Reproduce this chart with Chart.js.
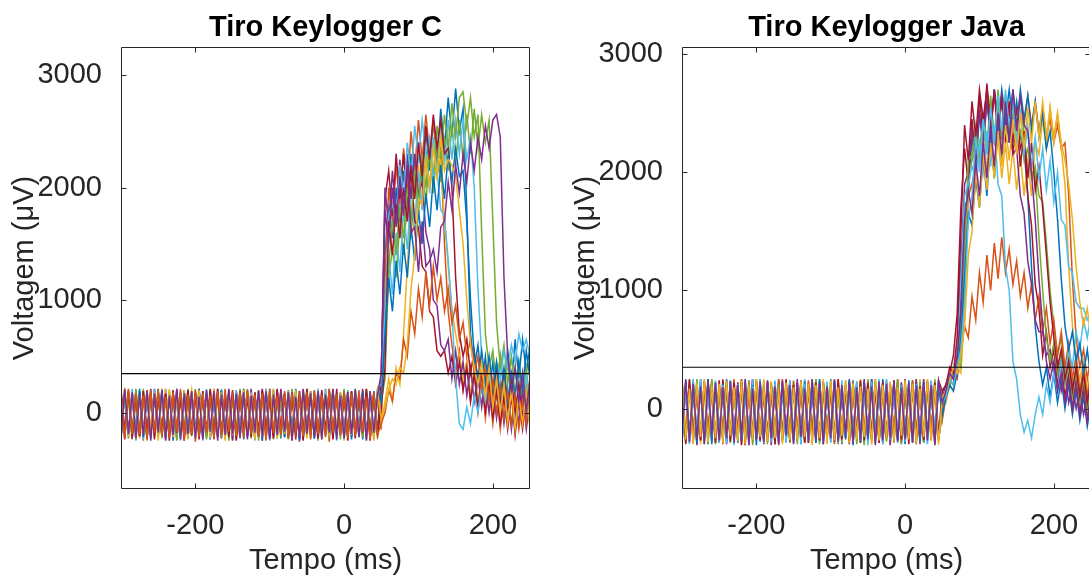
<!DOCTYPE html>
<html>
<head>
<meta charset="utf-8">
<script src="https://cdn.jsdelivr.net/npm/chart.js@4.4.1/dist/chart.umd.min.js"></script>
<style>
  body { margin: 0; background: #fff; overflow: hidden; }
  #wrap { position: relative; width: 1089px; height: 579px; overflow: hidden; }
  canvas { position: absolute; top: 0; }
</style>
</head>
<body>
<div id="wrap">
  <canvas id="graficoC" width="560" height="579" style="left:0"></canvas>
  <canvas id="graficoJava" width="560" height="579" style="left:561px"></canvas>
</div>
<script>
// tempo (ms), common to every trace
const tempo = [
  -300,-295,-290,-285,-280,-275,-270,-265,-260,-255,
  -250,-245,-240,-235,-230,-225,-220,-215,-210,-205,
  -200,-195,-190,-185,-180,-175,-170,-165,-160,-155,
  -150,-145,-140,-135,-130,-125,-120,-115,-110,-105,
  -100,-95,-90,-85,-80,-75,-70,-65,-60,-55,
  -50,-45,-40,-35,-30,-25,-20,-15,-10,-5,
  0,5,10,15,20,25,30,35,40,45,
  50,55,60,65,70,75,80,85,90,95,
  100,105,110,115,120,125,130,135,140,145,
  150,155,160,165,170,175,180,185,190,195,
  200,205,210,215,220,225,230,235,240,245,
  250
];

const xTicks = [-200, 0, 200];
const yTicks = [0, 1000, 2000, 3000];

// Tiro Keylogger C
const limiarC = 345;
const tiroC1 = [180,-190,160,-220,200,-170,150,-230,190,-200,170,-210,210,-180,140,-240,180,-190,200,-160,160,-220,190,-200,150,-230,210,-180,170,-210,140,-190,200,-240,180,-170,160,-220,190,-200,210,-180,150,-230,170,-210,200,-190,160,-240,180,-170,190,-220,140,-200,210,-230,170,-180,200,-210,160,-190,180,-240,150,-200,190,-170,120,
  1400,1850,1550,2000,1650,2150,1800,2300,1950,2400,2050,2500,2150,2600,2250,2700,2350,2800,2450,2880,2500,2700,1800,700,400,600,250,500,150,450,150,500,200,550,250,650,300,650,350,600];
const tiroC2 = [-200,170,-230,190,-180,150,-250,200,-210,160,-190,210,-240,140,-170,180,-220,200,-200,150,-260,190,-180,170,-230,210,-190,140,-210,180,-240,200,-170,160,-220,190,-200,150,-250,210,-180,170,-230,140,-190,200,-210,180,-240,160,-170,190,-220,150,-200,210,-260,170,-190,140,-230,200,-180,180,-210,160,-240,190,-200,150,-150,
  1200,2000,1700,2200,1850,2350,2000,2500,2150,2600,2250,2650,2300,2600,2200,2350,1500,900,600,350,550,200,450,100,350,0,300,-50,250,-100,200,-150,150,-100,200,-150,150,-100,200,-50];
const tiroC3 = [150,-210,190,-170,60,-230,200,-190,170,-220,140,-200,210,-160,180,-240,150,-190,-20,200,-210,170,-230,190,-180,160,-220,200,-200,140,-240,180,-170,210,-190,150,-230,190,-210,170,-180,60,-220,200,-160,180,-240,150,-200,190,-230,170,-190,210,-170,140,-220,180,-200,160,-250,190,-180,150,-210,200,-190,170,-230,140,-100,
  100,300,100,400,250,700,1300,1800,1600,2200,1850,2350,2000,2450,2100,2250,1700,1300,900,700,500,300,450,150,400,100,350,0,300,-50,250,-100,200,-50,250,-100,200,-50,250,-100];
const tiroC4 = [-220,200,-180,170,-240,190,-200,150,-230,210,-170,180,-250,160,-210,200,-190,140,-230,190,-180,210,-240,170,-200,150,-220,190,-170,200,-250,160,-190,180,-210,210,-230,140,-180,190,-240,170,-200,200,-220,150,-190,180,-260,210,-170,160,-230,190,-200,140,-210,200,-240,170,-180,180,-220,150,-200,210,-190,170,-230,160,300,
  2000,1650,2150,1750,2250,1850,2300,1900,2300,1950,2050,1600,1450,1000,950,600,550,650,300,550,250,450,150,400,100,350,50,300,0,250,-50,200,-100,150,-150,150,-100,200,-150,100];
const tiroC5 = [170,-200,150,-240,190,-180,210,-220,160,-190,200,-230,140,-170,180,-250,190,-200,150,-210,210,-180,170,-240,200,-190,160,-220,180,-170,150,-230,190,-200,210,-180,140,-250,170,-210,200,-190,160,-220,180,-240,150,-170,190,-200,210,-230,170,-180,140,-210,200,-190,160,-240,180,-200,190,-170,150,-220,210,-180,170,-210,100,
  300,1300,1700,1400,1850,1550,2000,1700,2150,1850,2300,2000,2400,2100,2550,2250,2650,2350,2750,2450,2800,2850,2550,2800,2450,2650,1600,700,400,550,250,500,200,450,150,400,100,350,50,300];
const tiroC6 = [-190,160,-220,200,-170,180,-240,150,-200,210,-230,170,-180,190,-210,140,-250,200,-190,160,-220,180,-170,210,-240,150,-200,190,-230,170,-180,200,-210,160,-190,180,-250,140,-220,210,-170,190,-230,150,-200,170,-240,200,-190,160,-210,180,-180,210,-230,150,-200,190,-170,140,-240,170,-210,200,-190,160,-220,180,-200,210,250,
  900,1750,1850,1700,2200,1900,2400,2100,2550,2250,2600,2300,2450,2100,2150,1800,1750,1350,900,300,-100,-150,50,-100,150,0,250,100,350,200,450,300,550,400,600,450,700,550,650,500];
const tiroC7 = [200,-170,180,-230,150,-210,190,-190,210,-240,160,-200,170,-220,200,-180,140,-250,190,-200,180,-210,150,-170,210,-230,170,-190,160,-220,200,-240,190,-180,140,-200,180,-210,210,-170,150,-230,200,-190,170,-220,160,-240,190,-180,210,-200,140,-230,180,-170,200,-210,150,-190,170,-250,190,-200,160,-180,210,-220,180,-190,50,
  400,1700,1400,1850,1550,2000,1700,2200,1900,2400,2100,2550,2250,2650,2350,2600,2300,2350,2000,1200,700,500,650,350,550,250,500,200,450,150,400,100,350,50,300,0,250,-50,200,-100];
const tiroC8 = [-240,190,-200,150,-180,210,-220,170,-190,140,-210,200,-170,180,-250,160,-200,190,-230,150,-180,210,-200,170,-240,140,-190,200,-220,180,-170,160,-230,210,-200,150,-180,190,-250,170,-210,200,-190,140,-220,180,-170,210,-240,160,-200,190,-230,170,-180,150,-210,200,-190,180,-220,140,-240,210,-170,190,-200,160,-230,200,100,
  700,1200,900,1350,1050,1500,1200,1650,1350,1800,1500,1950,1650,2100,1800,2200,1900,2300,2050,2350,2100,2150,1700,1000,500,300,550,250,500,200,450,150,400,100,350,150,450,200,550,300];
const tiroC9 = [160,-230,210,-190,170,-200,150,-240,200,-180,190,-210,140,-220,180,-170,210,-250,160,-190,200,-220,170,-180,150,-240,190,-200,210,-170,140,-210,180,-230,200,-190,160,-220,170,-250,210,-180,150,-200,190,-230,170,-170,140,-210,180,-240,200,-190,160,-220,210,-180,150,-200,190,-230,170,-210,200,-170,140,-240,180,-200,-100,
  0,200,100,350,300,650,500,900,700,1100,850,1250,950,1300,1000,1200,900,1100,800,950,650,800,500,650,350,500,200,400,100,300,0,250,-50,200,-100,150,-150,100,-100,150];
const tiroC10 = [-210,210,-190,180,-230,160,-200,200,-250,170,-180,190,-220,150,-200,210,-240,170,-190,180,-230,140,-210,200,-170,190,-250,160,-200,210,-190,170,-220,180,-240,150,-180,200,-210,190,-230,160,-200,210,-170,180,-250,140,-220,200,-190,170,-210,190,-240,160,-180,210,-200,150,-230,180,-190,200,-220,170,-250,190,-180,160,350,
  1800,1500,2000,1650,2100,1750,2200,1600,1650,1250,1700,1300,1350,1450,1250,1650,1700,2050,1800,2200,1950,2300,2050,2400,2150,2450,2250,2550,2350,2600,2650,2450,1200,500,200,400,100,350,0,300];
const tiroC11 = [190,-160,140,-230,210,-200,170,-250,150,-180,200,-220,160,-190,190,-240,140,-170,210,-210,180,-200,150,-230,200,-180,170,-220,190,-250,160,-190,210,-170,140,-230,180,-210,200,-200,150,-240,190,-180,170,-220,210,-190,160,-230,200,-170,140,-250,180,-200,190,-210,150,-180,210,-240,170,-190,160,-220,200,-180,140,-230,200,
  600,1200,1450,1200,1700,1400,1900,1550,2100,1750,2250,1850,2350,1950,2400,2050,2450,2150,2550,2200,2600,2250,2650,2300,2700,2350,2650,2400,2600,1700,800,400,600,250,500,150,450,100,400,50];
const tiroC12 = [-230,150,-190,210,-250,180,-170,160,-220,200,-200,140,-240,190,-180,210,-210,170,-230,150,-190,200,-250,180,-170,160,-220,210,-200,140,-240,190,-180,170,-210,200,-230,150,-190,180,-250,210,-170,160,-200,190,-220,140,-240,200,-180,180,-210,150,-230,210,-190,170,-250,160,-200,200,-170,190,-220,140,-240,180,-210,170,300,
  800,1400,1050,1600,1250,1800,1450,2000,1650,2150,1800,2300,1950,2450,2100,2550,2200,2600,2250,2600,2300,2600,2250,2450,2000,1100,500,200,450,100,350,0,300,-50,250,-100,300,-50,350,0];
const tiroC13 = [140,-240,200,-180,170,-210,190,-230,150,-170,210,-200,160,-250,180,-190,140,-220,200,-180,170,-240,190,-210,150,-170,210,-230,160,-200,180,-250,140,-190,200,-220,170,-180,190,-240,150,-210,210,-170,160,-230,180,-200,140,-250,190,-180,170,-220,200,-190,150,-240,210,-210,160,-170,180,-230,140,-200,190,-250,170,-190,350,
  1900,2150,1750,2300,1900,2300,1900,2150,1700,1650,1300,1250,900,850,550,500,550,350,500,250,450,200,400,100,350,50,300,0,250,-50,200,-100,150,-150,150,-200,100,-150,150,-100];
const tiroC14 = [-180,220,-210,170,-240,150,-190,200,-170,180,-250,160,-200,210,-220,140,-180,190,-240,170,-210,200,-170,150,-230,210,-190,180,-250,160,-200,140,-220,200,-180,170,-240,190,-210,150,-170,210,-230,160,-190,180,-250,200,-200,140,-220,190,-180,170,-240,150,-210,210,-170,180,-230,160,-200,200,-190,140,-220,180,-250,190,-50,
  50,200,300,250,400,350,600,1100,1400,1900,1850,2250,2000,2350,2100,2450,2150,2250,2200,2100,1800,1500,1000,600,400,250,450,150,400,50,300,0,250,-100,200,-150,150,-100,200,-150];

// Tiro Keylogger Java
const limiarJava = 350;
const tiroJ1 = [220,-250,190,-280,240,-230,200,-300,230,-260,180,-240,250,-270,210,-290,170,-250,240,-230,200,-280,230,-260,190,-300,250,-240,210,-270,170,-250,240,-290,220,-230,190,-280,230,-260,250,-240,200,-300,180,-270,240,-250,210,-290,190,-230,230,-280,250,-260,170,-240,220,-300,200,-270,240,-250,180,-290,230,-230,210,-260,0,
  150,250,200,400,900,1700,1800,2300,2000,2500,2200,2600,2350,2700,2400,2700,2450,2700,2400,2600,2300,2200,1800,1200,700,400,200,350,100,300,50,250,0,200,-50,150,-100,100,-150,50];
const tiroJ2 = [-260,210,-290,240,-230,180,-300,230,-250,200,-280,250,-240,170,-270,220,-300,190,-250,240,-230,200,-290,230,-260,180,-310,250,-240,210,-270,190,-250,240,-290,170,-230,220,-280,200,-260,250,-300,180,-240,230,-270,210,-290,190,-250,240,-230,200,-280,170,-300,230,-260,220,-240,190,-290,250,-270,180,-250,210,-230,240,-100,
  100,200,300,250,500,1000,1800,1900,2050,2100,2250,2200,2400,2250,2500,2300,2550,2350,2600,2400,2650,2400,2650,2400,2600,2350,2550,2300,2450,2250,2400,2200,2250,1800,1100,600,350,500,250,450];
const tiroJ3 = [190,-280,240,-240,210,-300,170,-260,250,-230,220,-290,180,-250,240,-270,200,-310,230,-240,170,-260,250,-280,190,-230,220,-300,240,-250,210,-270,180,-290,230,-240,250,-260,190,-300,240,-230,200,-280,170,-250,220,-290,250,-260,180,-300,230,-240,210,-270,190,-250,240,-280,200,-260,170,-290,250,-230,220,-270,190,-240,50,
  50,200,150,350,300,800,1900,2100,2300,2050,2400,2000,2350,1950,2300,1950,2250,1900,2200,1850,2150,1800,2100,1800,2250,2150,2450,2200,2550,2300,2500,2200,1900,1200,700,400,250,400,150,350];
const tiroJ4 = [-290,230,-250,200,-310,250,-260,180,-280,220,-240,190,-300,240,-230,210,-270,170,-290,250,-250,200,-280,230,-310,190,-240,220,-260,180,-300,250,-230,210,-270,190,-290,240,-250,170,-280,220,-260,200,-240,250,-300,180,-230,230,-270,210,-290,190,-250,240,-310,170,-260,220,-240,200,-280,250,-300,190,-230,230,-270,180,100,
  200,300,250,450,1200,1900,2000,2350,2100,2500,2250,2600,2300,2700,2400,2650,2400,2500,2150,2200,1800,1650,1250,1050,750,650,650,450,500,300,400,150,300,50,200,0,150,-50,100,-100];
const tiroJ5 = [230,-240,180,-290,250,-260,200,-230,220,-300,170,-270,240,-250,190,-280,230,-240,210,-310,250,-260,180,-230,220,-290,200,-270,240,-250,190,-300,230,-240,170,-280,250,-260,210,-230,200,-290,240,-270,180,-250,220,-300,230,-240,250,-260,190,-280,210,-230,170,-290,240,-270,220,-250,200,-300,230,-240,180,-270,250,-260,-50,
  100,250,200,400,350,1300,2100,2150,2350,2100,2450,2150,2550,2250,2600,2300,2650,2350,2700,2400,2650,2300,2350,2000,2000,1450,1000,600,400,550,300,450,200,350,100,300,50,250,0,200];
const tiroJ6 = [-250,200,-300,250,-230,170,-280,220,-260,240,-290,190,-240,230,-310,210,-250,180,-270,250,-230,220,-290,200,-260,240,-300,170,-250,230,-280,190,-240,250,-270,210,-230,180,-300,220,-260,240,-290,200,-250,170,-280,230,-240,210,-310,190,-230,250,-270,220,-260,180,-290,200,-250,230,-280,210,-240,190,-300,240,-260,170,50,
  150,300,250,500,1100,1800,1900,2050,1950,2250,2000,2350,2050,2400,1900,1800,1200,1000,400,250,-50,-200,-100,-250,-50,100,-50,200,50,300,150,400,250,500,350,650,500,750,600,800];
const tiroJ7 = [210,-300,250,-250,190,-270,230,-240,170,-290,240,-260,200,-280,220,-230,250,-310,180,-250,230,-270,190,-240,210,-300,170,-260,250,-280,200,-230,240,-290,180,-250,220,-270,230,-240,170,-280,250,-260,200,-300,190,-230,240,-270,220,-250,180,-290,230,-240,210,-280,170,-260,250,-300,200,-240,190,-270,240,-250,220,-230,150,
  200,350,300,600,1500,2400,2100,2600,2300,2700,2450,2700,2400,2650,2350,2600,2250,2550,2150,2450,2050,2350,1950,2250,1850,2050,1700,1300,900,600,350,500,250,400,150,350,100,300,50,250];
const tiroJ8 = [-270,240,-230,190,-290,220,-250,250,-300,180,-240,210,-280,230,-260,170,-250,240,-290,200,-310,250,-240,190,-270,220,-230,200,-280,240,-250,180,-300,230,-240,210,-290,250,-260,190,-230,220,-270,170,-250,240,-310,200,-280,230,-260,250,-240,190,-290,210,-230,220,-270,180,-300,240,-250,200,-280,230,-240,170,-260,210,-50,
  100,200,150,300,600,1100,1650,1550,1950,1700,2150,1800,2300,1950,2450,2100,2550,2250,2700,2350,2700,2450,2650,2350,2600,2300,2500,2200,2350,2000,1600,1100,700,500,650,400,550,300,500,250];
const tiroJ9 = [240,-260,170,-300,220,-240,250,-280,190,-250,210,-290,230,-230,180,-270,240,-300,200,-260,250,-240,190,-280,230,-250,170,-290,220,-270,180,-260,240,-240,210,-310,200,-250,250,-280,230,-270,180,-230,240,-290,210,-260,190,-240,170,-300,250,-270,200,-250,230,-280,180,-230,240,-260,210,-290,170,-240,250,-270,200,-300,100,
  150,250,350,300,450,700,1300,1500,2000,1700,2150,1850,2250,1950,2350,2050,2400,2100,2450,2150,2500,2200,2550,2250,2600,2300,2600,2300,2550,2250,2500,2250,2100,1900,1600,1200,900,700,850,600];
const tiroJ10 = [-240,250,-280,210,-260,190,-300,240,-230,220,-270,180,-250,230,-290,200,-240,250,-310,170,-260,230,-280,210,-250,190,-300,240,-230,200,-290,220,-240,170,-270,250,-260,210,-300,190,-250,240,-280,200,-230,220,-290,180,-260,250,-240,190,-310,230,-270,210,-250,240,-280,170,-260,220,-290,190,-240,250,-270,200,-300,230,50,
  150,300,250,450,800,1600,1850,1650,2100,1800,2250,1950,2400,2050,2500,2150,2600,2250,2700,2350,2650,2400,2350,2000,1600,1100,700,400,250,400,150,300,50,250,0,200,-50,150,-100,100];
const tiroJ11 = [200,-290,240,-250,180,-270,230,-300,250,-240,190,-260,220,-290,170,-230,240,-280,210,-250,250,-270,180,-300,230,-240,200,-260,170,-290,240,-230,210,-280,190,-250,250,-300,180,-260,220,-240,170,-290,240,-270,200,-230,230,-310,180,-250,250,-260,190,-280,210,-240,240,-300,170,-270,230,-250,200,-290,180,-230,220,-260,50,
  100,200,350,300,700,1400,2000,2100,2400,2150,2500,2200,2650,2300,2700,2350,2650,2400,2500,2300,2350,2100,2200,1950,2050,1800,1750,1400,1000,700,450,600,300,450,150,350,50,250,0,150];
const tiroJ12 = [-280,180,-240,230,-300,210,-260,250,-230,190,-290,240,-250,170,-270,220,-310,200,-240,250,-260,190,-300,240,-230,210,-280,170,-250,230,-240,220,-270,190,-290,250,-250,180,-300,210,-230,240,-280,170,-260,200,-240,230,-290,190,-270,250,-250,210,-300,180,-230,240,-260,200,-290,170,-240,230,-280,210,-250,190,-310,240,150,
  200,300,450,800,1700,2200,1900,2450,2100,2650,2300,2750,2400,2700,2350,2650,2300,2600,2250,2550,2200,2300,1800,1550,1050,850,450,650,350,500,200,400,100,300,0,250,-50,200,-100,150];
const tiroJ13 = [250,-230,200,-290,170,-260,240,-250,210,-280,180,-300,230,-240,250,-270,190,-230,220,-290,240,-250,170,-280,210,-300,250,-260,200,-240,230,-270,190,-230,240,-290,180,-250,220,-260,170,-300,250,-240,200,-280,230,-270,190,-230,240,-260,210,-290,180,-250,220,-240,250,-280,190,-230,240,-300,170,-260,200,-250,230,-270,0,
  150,250,350,300,500,700,600,950,750,1150,900,1300,1000,1400,1100,1450,1150,1350,1050,1250,950,1150,850,1050,750,950,650,850,550,750,450,650,350,550,250,450,150,350,100,300];
const tiroJ14 = [-300,210,-260,190,-240,250,-280,170,-230,220,-250,200,-290,240,-270,180,-230,230,-310,190,-240,250,-260,170,-280,220,-250,200,-290,240,-230,190,-300,210,-260,250,-240,180,-270,230,-290,170,-250,240,-230,200,-280,220,-260,190,-240,230,-270,180,-300,250,-250,210,-230,170,-280,220,-260,190,-240,240,-290,200,-250,230,50,
  100,250,200,350,500,900,1600,1800,2300,2000,2450,2150,2550,2250,2650,2350,2700,2400,2600,2250,2500,2150,2400,2050,2300,1950,2200,1850,2100,1750,2000,1600,1550,1200,1150,900,850,850,750,800];

// MATLAB default colour order
const azul = '#0072BD', laranja = '#D95319', amarelo = '#EDB120', roxo = '#7E2F8E',
      verde = '#77AC30', ciano = '#4DBEEE', vinho = '#A2142F';

const fonte = "'Liberation Sans', Arial, Helvetica, sans-serif";
const corTexto = '#262626';

// box with inward ticks on all four sides + bold title over the axes
const molduraPlugin = {
  id: 'moldura',
  afterDraw(chart, args, opts) {
    const { ctx, chartArea: a, scales } = chart;
    const L = Math.round(a.left) + 0.5, R = Math.round(a.right) - 0.5;
    const T = Math.round(a.top) + 0.5, B = Math.round(a.bottom) - 0.5;
    ctx.save();
    ctx.strokeStyle = corTexto;
    ctx.lineWidth = 1;
    ctx.beginPath();
    ctx.rect(L, T, R - L, B - T);
    xTicks.forEach(v => {
      const px = Math.round(scales.x.getPixelForValue(v)) + 0.5;
      ctx.moveTo(px, B); ctx.lineTo(px, B - 5);
      ctx.moveTo(px, T); ctx.lineTo(px, T + 5);
    });
    yTicks.forEach(v => {
      const py = Math.round(scales.y.getPixelForValue(v)) + 0.5;
      ctx.moveTo(L, py); ctx.lineTo(L + 5, py);
      ctx.moveTo(R, py); ctx.lineTo(R - 5, py);
    });
    ctx.stroke();

    ctx.fillStyle = '#000';
    ctx.font = 'bold 29px ' + fonte;
    ctx.textAlign = 'center';
    ctx.textBaseline = 'alphabetic';
    ctx.fillText(opts.texto, (a.left + a.right) / 2, 36);
    ctx.restore();
  }
};

function criarGrafico(id, titulo, series, cores, yMin, yMax, limiar) {
  const datasets = series.map((valores, i) => ({
    data: valores.map((v, k) => ({ x: tempo[k], y: v })),
    borderColor: cores[i],
    borderWidth: 1.5,
    pointRadius: 0,
    tension: 0,
    order: series.length - i
  }));
  // threshold line, drawn on top of everything
  datasets.push({
    data: [{ x: tempo[0], y: limiar }, { x: tempo[tempo.length - 1], y: limiar }],
    borderColor: '#000',
    borderWidth: 1.2,
    pointRadius: 0,
    order: 0
  });

  const tickFont = { family: fonte, size: 29 };

  return new Chart(document.getElementById(id), {
    type: 'line',
    data: { datasets },
    plugins: [molduraPlugin],
    options: {
      responsive: false,
      animation: false,
      events: [],
      layout: { padding: { top: 47, right: 30, left: 0, bottom: 0 } },
      plugins: {
        legend: { display: false },
        tooltip: { enabled: false },
        moldura: { texto: titulo }
      },
      scales: {
        x: {
          type: 'linear',
          min: -300,
          max: 250,
          grid: { display: false },
          border: { display: false },
          afterBuildTicks: s => { s.ticks = xTicks.map(v => ({ value: v })); },
          afterFit: s => { s.height = 90; },
          ticks: { font: tickFont, color: corTexto, padding: 12, maxRotation: 0, autoSkip: false,
                   callback: v => String(v) },
          title: { display: true, text: 'Tempo (ms)', font: tickFont, color: corTexto,
                   padding: { top: 0, bottom: 1 } }
        },
        y: {
          min: yMin,
          max: yMax,
          grid: { display: false },
          border: { display: false },
          afterBuildTicks: s => { s.ticks = yTicks.map(v => ({ value: v })); },
          afterFit: s => { s.width = 121; },
          ticks: { font: tickFont, color: corTexto, padding: 11, callback: v => String(v) },
          title: { display: true, text: 'Voltagem (μV)', font: tickFont, color: corTexto,
                   padding: { top: 8, bottom: 0 } }
        }
      }
    }
  });
}

criarGrafico('graficoC', 'Tiro Keylogger C',
  [tiroC1, tiroC2, tiroC3, tiroC11, tiroC12, tiroC13, tiroC4, tiroC5, tiroC6, tiroC7, tiroC8, tiroC9, tiroC14, tiroC10],
  [azul, laranja, amarelo, verde, ciano, vinho, roxo, verde, ciano, vinho, azul, laranja, amarelo, roxo],
  -680, 3250, limiarC);

criarGrafico('graficoJava', 'Tiro Keylogger Java',
  [tiroJ1, tiroJ2, tiroJ3, tiroJ11, tiroJ12, tiroJ13, tiroJ4, tiroJ5, tiroJ6, tiroJ7, tiroJ8, tiroJ14, tiroJ9, tiroJ10],
  [azul, laranja, amarelo, verde, vinho, laranja, roxo, verde, ciano, vinho, azul, ciano, amarelo, roxo],
  -680, 3060, limiarJava);
</script>
</body>
</html>
